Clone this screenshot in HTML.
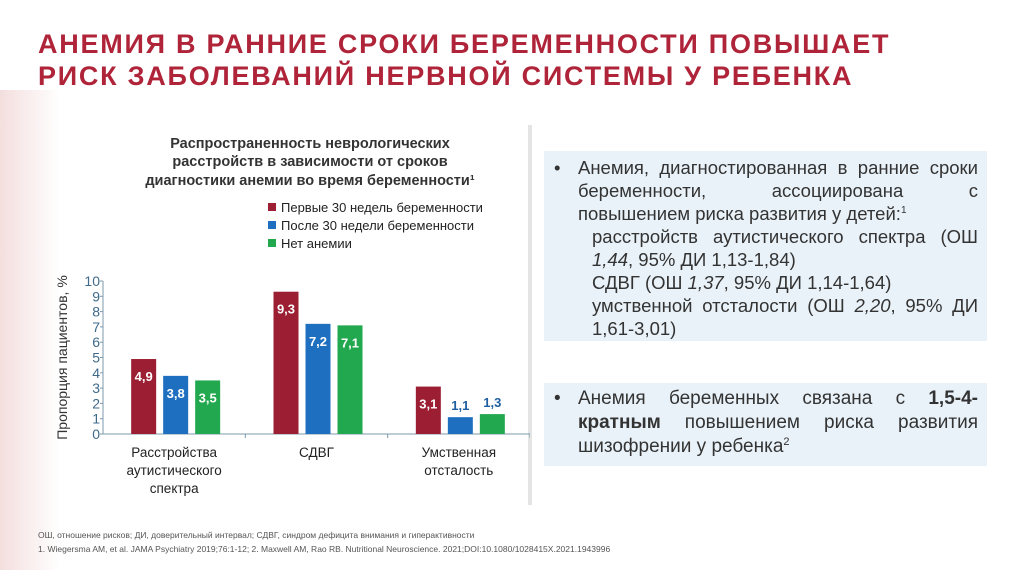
<!DOCTYPE html>
<html><head><meta charset="utf-8"><style>
body{margin:0;width:1024px;height:574px;overflow:hidden;background:#fff;font-family:"Liberation Sans","Noto Sans CJK SC",sans-serif;position:relative}
.t{position:absolute;left:38px;top:28px;color:#b0243a;font-weight:bold;font-size:27px;line-height:32px;letter-spacing:1.75px}
.box{position:absolute;left:544px;width:443px;background:#e9f2f8;color:#333;font-size:18.5px;line-height:23px}
.box .b{position:absolute;left:10px}
.j{text-align:justify;text-align-last:justify;white-space:nowrap}
.j2{white-space:nowrap}
sup{position:relative;top:-7px;vertical-align:baseline;line-height:0}
.foot{position:absolute;left:38px;font-size:8.5px;color:#555}
</style></head><body>
<div style="position:absolute;left:0;top:90px;width:60px;height:480px;background:linear-gradient(90deg,#f4dede,#fff)"></div>
<div class="t">АНЕМИЯ В РАННИЕ СРОКИ БЕРЕМЕННОСТИ ПОВЫШАЕТ<br>РИСК ЗАБОЛЕВАНИЙ НЕРВНОЙ СИСТЕМЫ У РЕБЕНКА</div>
<div style="position:absolute;left:528px;top:125px;width:4px;height:380px;background:#e4e4e4"></div>
<svg id="ch" width="530" height="520" style="position:absolute;left:0;top:0" font-family="Liberation Sans, sans-serif"></svg>
<div class="box" style="top:151px;height:190px">
<span class="b" style="top:5px">•</span>
<div style="position:absolute;left:34px;top:5px;width:400px">
<div class="j">Анемия, диагностированная в ранние сроки</div>
<div class="j">беременности, ассоциирована с</div>
<div class="j2">повышением риска развития у детей:<sup style="font-size:10px">1</sup></div>
</div>
<div style="position:absolute;left:48px;top:74px;width:386px">
<div class="j">расстройств аутистического спектра (ОШ</div>
<div class="j2"><i>1,44</i>, 95% ДИ 1,13-1,84)</div>
<div class="j2">СДВГ (ОШ <i>1,37</i>, 95% ДИ 1,14-1,64)</div>
<div class="j">умственной отсталости (ОШ <i>2,20</i>, 95% ДИ</div>
<div class="j2">1,61-3,01)</div>
</div>
</div>
<div class="box" style="top:383px;height:83px;font-size:19px;line-height:24px">
<span class="b" style="top:4px">•</span>
<div style="position:absolute;left:34px;top:4px;width:400px">
<div class="j">Анемия беременных связана с <b>1,5-4-</b></div>
<div class="j"><b>кратным</b> повышением риска развития</div>
<div class="j2">шизофрении у ребенка<sup style="font-size:11px">2</sup></div>
</div>
</div>
<div class="foot" style="top:530px">ОШ, отношение рисков; ДИ, доверительный интервал; СДВГ, синдром дефицита внимания и гиперактивности</div>
<div class="foot" style="top:544px">1. Wiegersma AM, et al. JAMA Psychiatry 2019;76:1-12; 2. Maxwell AM, Rao RB. Nutritional Neuroscience. 2021;DOI:10.1080/1028415X.2021.1943996</div>
<script>
const categories=[["Расстройства","аутистического","спектра"],["СДВГ"],["Умственная","отсталость"]];
const seriesNames=["Первые 30 недель беременности","После 30 недели беременности","Нет анемии"];
const early=[4.9,9.3,3.1];
const late=[3.8,7.2,1.1];
const none=[3.5,7.1,1.3];
const labels=[["4,9","9,3","3,1"],["3,8","7,2","1,1"],["3,5","7,1","1,3"]];
const yTicks=[0,1,2,3,4,5,6,7,8,9,10];
const colors=["#9b1e32","#1f6fc0","#22a84e"];
const series=[early,late,none];
const svg=document.getElementById('ch');const NS="http://www.w3.org/2000/svg";
function mk(t,a,txt){const e=document.createElementNS(NS,t);for(const k in a)e.setAttribute(k,a[k]);if(txt!=null)e.textContent=txt;svg.appendChild(e);return e;}
const x0=103,x1=530,y0=434,pu=15.3;
const y=v=>y0-v*pu;const gw=(x1-x0)/3;
let e;
e=mk('text',{x:310,y:148,'text-anchor':'middle','font-size':14.5,'font-weight':'bold',fill:'#333'},'Распространенность неврологических');


mk('text',{x:310,y:166,'text-anchor':'middle','font-size':14.5,'font-weight':'bold',fill:'#333'},'расстройств в зависимости от сроков');
mk('text',{x:310,y:185,'text-anchor':'middle','font-size':14.5,'font-weight':'bold',fill:'#333'},'диагностики анемии во время беременности¹');
seriesNames.forEach((n,i)=>{
e=mk('rect',{x:268,y:203+i*18,width:8,height:8,fill:colors[i]});


e=mk('text',{x:281,y:212+i*18,'font-size':13,fill:'#222'},n);


});
e=mk('text',{x:0,y:0,'font-size':14,fill:'#333','text-anchor':'middle',transform:`translate(67,${y(5)}) rotate(-90)`},'Пропорция пациентов, %');


yTicks.forEach(t=>{
e=mk('text',{x:100,y:y(t)+5,'text-anchor':'end','font-size':14,fill:'#3f6a8a'},String(t));


mk('line',{x1:x0-3,x2:x0,y1:y(t),y2:y(t),stroke:'#7c98ad'});
});
mk('line',{x1:x0,x2:x0,y1:y(10),y2:y0,stroke:'#7c98ad'});
mk('line',{x1:x0,x2:x1,y1:y0,y2:y0,stroke:'#7c98ad'});
categories.forEach((c,ci)=>{
const cx=x0+gw*(ci+0.5);
mk('line',{x1:x0+gw*(ci+1),x2:x0+gw*(ci+1),y1:y0,y2:y0+4,stroke:'#7c98ad'});
c.forEach((l,li)=>{e=mk('text',{x:cx,y:457+li*18,'text-anchor':'middle','font-size':13.5,fill:'#222'},l);

});
series.forEach((s,si)=>{
const bx=cx-43+si*32;const v=s[ci];
e=mk('rect',{x:bx,y:y(v),width:25,height:v*pu,fill:colors[si]});


const inside=v>2;
e=mk('text',{x:bx+12.5,y:inside?y(v)+22:y(v)-7,'text-anchor':'middle','font-size':13,'font-weight':'bold',fill:inside?'#fff':'#1f5f9f'},labels[si][ci]);


});
});
</script>
</body></html>
